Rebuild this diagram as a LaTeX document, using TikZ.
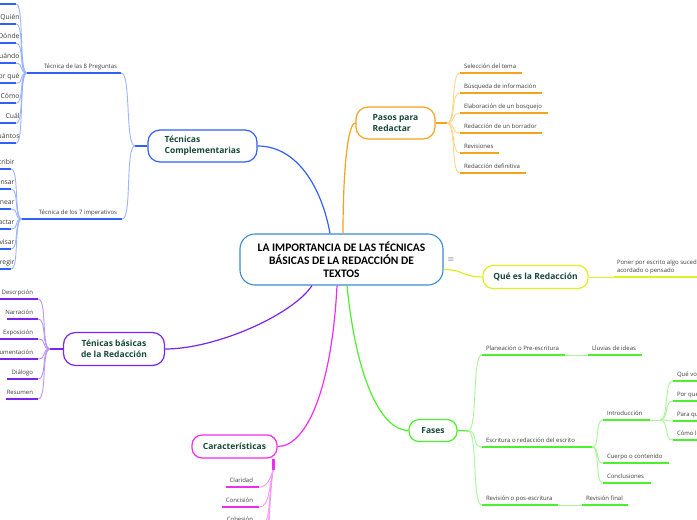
\documentclass[tikz,border=0pt]{standalone}
\usepackage{fontspec}
\setmainfont{Open Sans}
\newfontfamily\titlefont{Carlito}
\definecolor{cBlue}{HTML}{3060F5}
\definecolor{cBlueL}{HTML}{9AB4FF}
\definecolor{cOr}{HTML}{F5A21E}
\definecolor{cOrL}{HTML}{FFD58A}
\definecolor{cYel}{HTML}{DCF21E}
\definecolor{cYelL}{HTML}{EEF88A}
\definecolor{cGr}{HTML}{4CF02E}
\definecolor{cGrL}{HTML}{A8F59A}
\definecolor{cPu}{HTML}{7A24EE}
\definecolor{cPuL}{HTML}{B894FA}
\definecolor{cMa}{HTML}{EE2EEE}
\definecolor{cMaL}{HTML}{F79AF7}
\definecolor{cCen}{HTML}{3A8BD0}
\definecolor{cTxt}{HTML}{17493A}
\definecolor{cLeaf}{HTML}{3C3C3C}
\begin{document}
\begin{tikzpicture}[x=1pt,y=-1pt,
 topic/.style={draw=#1, line width=1.2pt, rounded corners=12pt, fill=white, text=cTxt, font=\bfseries\fontsize{8.5}{10.5}\selectfont, inner sep=0pt},
 ul/.style={inner sep=0pt, minimum height=0pt, append after command={(\tikzlastnode.west) edge[draw=#1, line width=2pt] (\tikzlastnode.east)}},
 lbl/.style={font=\fontsize{6}{8.3}\selectfont, text=cLeaf, inner xsep=0pt, inner ysep=2.5pt, text depth=1.5pt},
 leafR/.style={label={[lbl,anchor=south west,xshift=4pt]north west:#1}},
 leafL/.style={label={[lbl,anchor=south east,xshift=-5pt]north east:#1}},
 leafLo/.style={label={[lbl,font=\fontsize{6.8}{8.5}\selectfont,anchor=south east,xshift=3.5pt]north east:#1}},
 link/.style={draw=#1, line width=1.2pt},
 fan/.style={draw=#1, line width=0.9pt},
]
\useasboundingbox (0,0) rectangle (697,520);
\begin{scope}
\clip (0,0) rectangle (697,520);

% central
\node[draw=cCen, line width=1.1pt, rounded corners=15pt, fill=white, minimum width=203pt, minimum height=51pt, align=center, inner sep=0pt, font=\titlefont\bfseries\fontsize{11.5}{13}\selectfont] (c) at (341.5,259.5) {LA IMPORTANCIA DE LAS TÉCNICAS\\BÁSICAS DE LA REDACCIÓN DE\\TEXTOS};
\node[text=black!65, font=\fontsize{8}{8}\selectfont] (menu) at (451,260) {$\equiv$};

% topics
\node[topic=cBlue, minimum width=109pt, minimum height=32pt, align=left] (tc) at (202.5,146) {Técnicas\\Complementarias};
\node[topic=cOr, minimum width=79pt, minimum height=32pt, align=left] (pa) at (395.5,123) {Pasos para\\Redactar};
\node[topic=cPu, minimum width=101pt, minimum height=33pt, align=center] (tb) at (114,349) {Ténicas básicas\\de la Redacción};
\node[topic=cYel, minimum width=105pt, minimum height=23pt, rounded corners=10pt] (qe) at (535.5,277) {Qué es la Redacción};
\node[topic=cGr, minimum width=48pt, minimum height=22pt, rounded corners=10pt] (fa) at (433,430.5) {Fases};
\node[topic=cMa, minimum width=85pt, minimum height=23pt, rounded corners=10pt] (ca) at (234.5,446.5) {Características};

% main links
\draw[link=cBlue] ([xshift=-11.5pt]c.north) .. controls +(-8,-45) and +(40,0) .. (tc.east);
\draw[link=cOr] ([xshift=1.5pt]c.north) .. controls +(0,-60) and +(-8,0) .. (pa.west);
\draw[link=cPu] ([xshift=-29.5pt]c.south) .. controls +(-20,30) and +(50,0) .. (tb.east);
\draw[link=cMa] ([xshift=-4.5pt]c.south) .. controls +(-5,100) and +(30,0) .. (ca.east);
\draw[link=cGr] ([xshift=5.5pt]c.south) .. controls +(10,100) and +(-25,0) .. (fa.west);
\draw[link=cYel] ([yshift=-10pt]c.east) .. controls +(20,0) and +(-20,0) .. (qe.west);

% ---- Tecnicas complementarias
\coordinate (jTC) at (135,146);
\draw[link=cBlue] (tc.west) -- (jTC);
\node[ul=cBlue, minimum width=94pt, label={[lbl,anchor=south east,xshift=-4pt]north east:Técnica de las 8 Preguntas}] (p8) at (74,73) {};
\node[ul=cBlue, minimum width=100pt, label={[lbl,anchor=south east,xshift=-5pt]north east:Técnica de los 7 imperativos}] (i7) at (72,219) {};
\draw[fan=cBlueL] (jTC) .. controls +(-10,0) and +(10,0) .. (p8.east);
\draw[fan=cBlueL] (jTC) .. controls +(-10,0) and +(10,0) .. (i7.east);

\node[ul=cBlue, minimum width=26pt] (q1) at (3,4) {};
\node[ul=cBlue, minimum width=26pt, leafLo=Quién] (q2) at (3,24) {};
\node[ul=cBlue, minimum width=26pt, leafLo=Dónde] (q3) at (3,43.3) {};
\node[ul=cBlue, minimum width=26pt, leafLo=Cuándo] (q4) at (3,63.3) {};
\node[ul=cBlue, minimum width=26pt, leafLo=Por qué] (q5) at (3,83.3) {};
\node[ul=cBlue, minimum width=26pt, leafLo=Cómo] (q6) at (3,103.3) {};
\node[ul=cBlue, minimum width=26pt, leafLo=Cuál] (q7) at (3,123.3) {};
\node[ul=cBlue, minimum width=26pt, leafLo=Cuántos] (q8) at (3,143.3) {};
\foreach \n in {q1,q2,q3,q4,q5,q6,q7,q8}
  \draw[fan=cBlueL] (p8.west) .. controls +(-8,0) and +(8,0) .. (\n.east);

\node[ul=cBlue, minimum width=22pt, leafLo=Escribir] (m1) at (0,169) {};
\node[ul=cBlue, minimum width=22pt, leafLo=Pensar] (m2) at (0,189) {};
\node[ul=cBlue, minimum width=22pt, leafLo=Planear] (m3) at (0,209) {};
\node[ul=cBlue, minimum width=22pt, leafLo=Redactar] (m4) at (0,229) {};
\node[ul=cBlue, minimum width=22pt, leafLo=Revisar] (m5) at (0,249) {};
\node[ul=cBlue, minimum width=22pt, leafLo=Corregir] (m6) at (0,269) {};
\foreach \n in {m1,m2,m3,m4,m5,m6}
  \draw[fan=cBlueL] (i7.west) .. controls +(-8,0) and +(8,0) .. (\n.east);

% ---- Tenicas basicas
\coordinate (jTB) at (50,349);
\draw[link=cPu, line width=1.6pt] (tb.west) -- (jTB);
\node[ul=cPu, minimum width=40pt, leafL=Descrpción] (b1) at (18,299) {};
\node[ul=cPu, minimum width=31pt, leafL=Narración] (b2) at (22.5,319) {};
\node[ul=cPu, minimum width=38pt, leafL=Exposición] (b3) at (19,339) {};
\node[ul=cPu, minimum width=48pt, leafL=Argumentación] (b4) at (14,359) {};
\node[ul=cPu, minimum width=31pt, leafL=Diálogo] (b5) at (22.5,379) {};
\node[ul=cPu, minimum width=32pt, leafL=Resumen] (b6) at (22,399) {};
\foreach \n in {b1,b2,b3,b4,b5,b6}
  \draw[fan=cPuL] (jTB) .. controls +(-9,0) and +(9,0) .. (\n.east);

% ---- Pasos para redactar
\coordinate (jPa) at (447,123);
\draw[link=cOr] (pa.east) -- (jPa);
\node[ul=cOr, minimum width=62pt, leafR=Selección del tema] (s1) at (491,73) {};
\node[ul=cOr, minimum width=82pt, leafR=Búsqueda de información] (s2) at (501,93) {};
\node[ul=cOr, minimum width=88pt, leafR=Elaboración de un bosquejo] (s3) at (504,113) {};
\node[ul=cOr, minimum width=82pt, leafR=Redacción de un borrador] (s4) at (501,133) {};
\node[ul=cOr, minimum width=39pt, leafR=Revisiones] (s5) at (479.5,153) {};
\node[ul=cOr, minimum width=66pt, leafR=Redacción definitiva] (s6) at (493,173) {};
\foreach \n in {s1,s2,s3,s4,s5,s6}
  \draw[fan=cOrL] (jPa) .. controls +(9,0) and +(-9,0) .. (\n.west);

% ---- Que es la redaccion
\node[ul=cYel, minimum width=106pt, label={[lbl,align=left,anchor=south west,xshift=3pt]north west:{Poner por escrito algo sucedido,\\acordado o pensado}}] (df) at (667,277) {};
\draw[fan=cYel] (qe.east) -- (df.west);

% ---- Fases
\coordinate (jFa) at (468,431);
\draw[link=cGr] (fa.east) -- (jFa);
\node[ul=cGr, minimum width=83pt, leafR=Planeación o Pre-escritura] (pl) at (523.5,355) {};
\node[ul=cGr, minimum width=110pt, leafR=Escritura o redacción del escrito] (es) at (537,447) {};
\node[ul=cGr, minimum width=76pt, leafR=Revisión o pos-escritura] (rv) at (520,505) {};
\foreach \n in {pl,es,rv}
  \draw[fan=cGrL] (jFa) .. controls +(10,0) and +(-10,0) .. (\n.west);
\node[ul=cGr, minimum width=54pt, leafR=Lluvias de ideas] (ll) at (615,355) {};
\draw[fan=cGrL] (pl.east) -- (ll.west);
\node[ul=cGr, minimum width=46pt, leafR=Revisión final] (rf) at (605,505) {};
\draw[fan=cGrL] (rv.east) -- (rf.west);
\node[ul=cGr, minimum width=47pt, leafR=Introducción] (in) at (626.5,420) {};
\node[ul=cGr, minimum width=66pt, leafR=Cuerpo o contenido] (cu) at (636,463) {};
\node[ul=cGr, minimum width=48pt, leafR=Conclusiones] (co) at (627,483) {};
\foreach \n in {in,cu,co}
  \draw[fan=cGrL] (es.east) .. controls +(8,0) and +(-8,0) .. (\n.west);
\coordinate (jIn) at (660,420);
\draw[fan=cGrL] (in.east) -- (jIn);
\node[ul=cGr, minimum width=47pt, leafR=Qué voy a escribir] (x1) at (696.5,381) {};
\node[ul=cGr, minimum width=47pt, leafR=Por qué escribo] (x2) at (696.5,401) {};
\node[ul=cGr, minimum width=47pt, leafR=Para quién escribo] (x3) at (696.5,421) {};
\node[ul=cGr, minimum width=47pt, leafR=Cómo lo escribo] (x4) at (696.5,440) {};
\foreach \n in {x1,x2,x3,x4}
  \draw[fan=cGrL] (jIn) .. controls +(9,0) and +(-9,0) .. (\n.west);

% ---- Caracteristicas
\coordinate (jCaT) at ([xshift=38.5pt]ca.south);
\coordinate (jCa) at (273,470);
\draw[draw=cMa, line width=3pt] (jCaT) -- (jCa);
\node[ul=cMa, minimum width=33pt, label={[lbl,anchor=south east,xshift=-6pt]north east:Claridad}] (k1) at (242.5,487) {};
\node[ul=cMa, minimum width=37pt, label={[lbl,anchor=south east,xshift=-6pt]north east:Concisión}] (k2) at (240.5,507) {};
\node[ul=cMa, minimum width=44pt, label={[lbl,anchor=south east,xshift=-6pt]north east:Cohesión}] (k3) at (237,526) {};
\coordinate (k4) at (259,546);
\coordinate (k5) at (259,566);
\draw[fan=cMaL] (jCa) .. controls +(-3,9) and +(8,0) .. (k1.east);
\draw[fan=cMaL] (jCa) .. controls +(-4,18) and +(10,0) .. (k2.east);
\draw[fan=cMaL] (jCa) .. controls +(-5,30) and +(12,0) .. (k3.east);
\draw[fan=cMaL] (jCa) .. controls +(-6,40) and +(12,0) .. (k4);
\draw[fan=cMaL] (jCa) .. controls +(-6,50) and +(12,0) .. (k5);
\end{scope}
\end{tikzpicture}
\end{document}
